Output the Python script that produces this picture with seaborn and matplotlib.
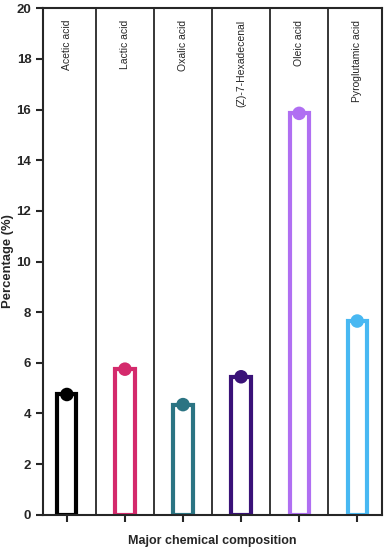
import matplotlib
matplotlib.use("Agg")
import matplotlib.pyplot as plt
import seaborn as sns
import pandas as pd

# data
compounds = ["Acetic acid", "Lactic acid", "Oxalic acid", "(Z)-7-Hexadecenal",
             "Oleic acid", "Pyroglutamic acid"]
percent = [4.75, 5.75, 4.35, 5.45, 15.85, 7.65]
colors = ["#000000", "#d42a6c", "#2b7483", "#3a1278", "#b06ff2", "#48b8f2"]

df = pd.DataFrame({"compound": compounds, "percent": percent})

sns.set_style("ticks")
plt.rcParams["font.family"] = ["Liberation Sans", "DejaVu Sans"]

fig = plt.figure(figsize=(3.88, 5.5), dpi=100)
ax = fig.add_axes([0.111, 0.064, 0.874, 0.921])

sns.barplot(data=df, x="compound", y="percent", hue="compound", palette=colors,
            fill=False, linewidth=3.0, width=0.33, legend=False, ax=ax)
sns.scatterplot(data=df, x="compound", y="percent", hue="compound", palette=colors,
                s=95, edgecolor="none", legend=False, ax=ax, zorder=5)

# separators between categories
for i in range(len(compounds) - 1):
    ax.axvline(i + 0.5, color="black", lw=1.1, zorder=1)

for i, name in enumerate(compounds):
    ax.text(i, 19.55, name, rotation=90, ha="center", va="top", fontsize=7.5)

ax.set_xlim(-0.41, 5.43)
ax.set_ylim(0, 20)
ax.set_yticks(range(0, 21, 2))
ax.set_xticklabels([])
ax.set_xlabel("Major chemical composition", fontsize=9, fontweight="bold", labelpad=6)
ax.set_ylabel("Percentage (%)", fontsize=9.4, fontweight="bold", labelpad=2)
for lab in ax.get_yticklabels():
    lab.set_fontweight("bold")
ax.tick_params(axis="both", width=1.5, length=5, labelsize=9.5)
for s in ax.spines.values():
    s.set_linewidth(1.5)
    s.set_visible(True)

fig.savefig("out.png", dpi=100)
